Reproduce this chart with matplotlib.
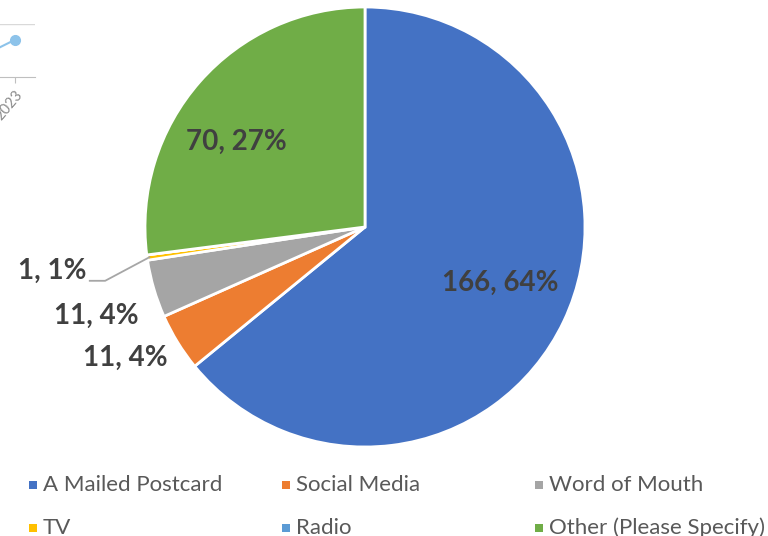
import numpy as np
import matplotlib.pyplot as plt
from matplotlib.patches import Rectangle

# pie data
sources = ['A Mailed Postcard', 'Social Media', 'Word of Mouth', 'TV', 'Radio',
           'Other (Please Specify)']
counts = [166, 11, 11, 1, 0, 70]
pct_shown = [64, 4, 4, 1, 0, 27]
colors = ['#4472C4', '#ED7D31', '#A5A5A5', '#FFC000', '#5B9BD5', '#70AD47']

# fragment of neighbouring line chart (top-left corner)
frag_years = [2022, 2023]
frag_vals = [32, 70]

plt.rcParams['font.family'] = ['Lato', 'DejaVu Sans']

W, H = 768, 536
fig = plt.figure(figsize=(W / 100, H / 100), dpi=100)

# --- neighbouring chart fragment ---
fax = fig.add_axes([-46 / W, 1 - 77 / H, 81 / W, 53 / H])
fax.plot(frag_years, frag_vals, color='#8DC3EA', lw=1.5, marker='o', ms=7)
fax.set_xlim(2021.5, 2023.5)
fax.set_ylim(0, 100)
fax.set_yticks([100])
fax.set_yticklabels([])
fax.tick_params(axis='y', length=0)
fax.grid(axis='y', color='#d9d9d9', lw=1)
fax.set_xticks([2023])
fax.set_xticklabels(['2023'], rotation=50, ha='right', rotation_mode='anchor',
                    fontsize=10.5, color='#8c8c8c')
fax.tick_params(axis='x', length=4, color='#bfbfbf')
for s in ['top', 'left', 'right']:
    fax.spines[s].set_visible(False)
fax.spines['bottom'].set_color('#bfbfbf')

# --- pie ---
ax = fig.add_axes([145 / W, 89 / H, 440 / W, 440 / H])
wedges, _ = ax.pie(counts, colors=colors, startangle=90, counterclock=False,
                   wedgeprops=dict(edgecolor='white', linewidth=2))
ax.set_xlim(-1, 1)
ax.set_ylim(-1, 1)
ax.set_aspect('equal')

# label placement: (radius, angle offset) per wedge, tuned to match
label_r = [0.665, 1.24, 1.285, 1.435, None, 0.70]
label_da = [3, -3, 2, 0, 0, 8]
for w, c, p, r, da in zip(wedges, counts, pct_shown, label_r, label_da):
    if r is None:
        continue
    mid = np.deg2rad((w.theta1 + w.theta2) / 2 + da)
    x, y = r * np.cos(mid), r * np.sin(mid)
    ax.text(x, y, f'{c}, {p}%', ha='center', va='center', fontsize=20,
            fontweight='bold', color='#404040', clip_on=False)
    if c == 1:
        # leader line for the tiny TV slice
        mid0 = np.deg2rad((w.theta1 + w.theta2) / 2)
        ax.plot([x + 0.17, x + 0.24, np.cos(mid0) * 0.99],
                [y - 0.045, y - 0.045, np.sin(mid0) * 0.99],
                color='#a6a6a6', lw=1.3, clip_on=False)

# legend, laid out row by row like the original
for i, (name, c) in enumerate(zip(sources, colors)):
    row, col = divmod(i, 3)
    xc = 33 + 253 * col
    yc = 485 + 43 * row
    fig.patches.append(Rectangle(((xc - 4) / W, 1 - (yc + 4) / H), 8 / W, 8 / H,
                                 transform=fig.transFigure, facecolor=c,
                                 edgecolor='none'))
    fig.text((xc + 10) / W, 1 - yc / H, name, ha='left', va='center',
             fontsize=16, color='#595959')

fig.savefig('out.png', dpi=100)
